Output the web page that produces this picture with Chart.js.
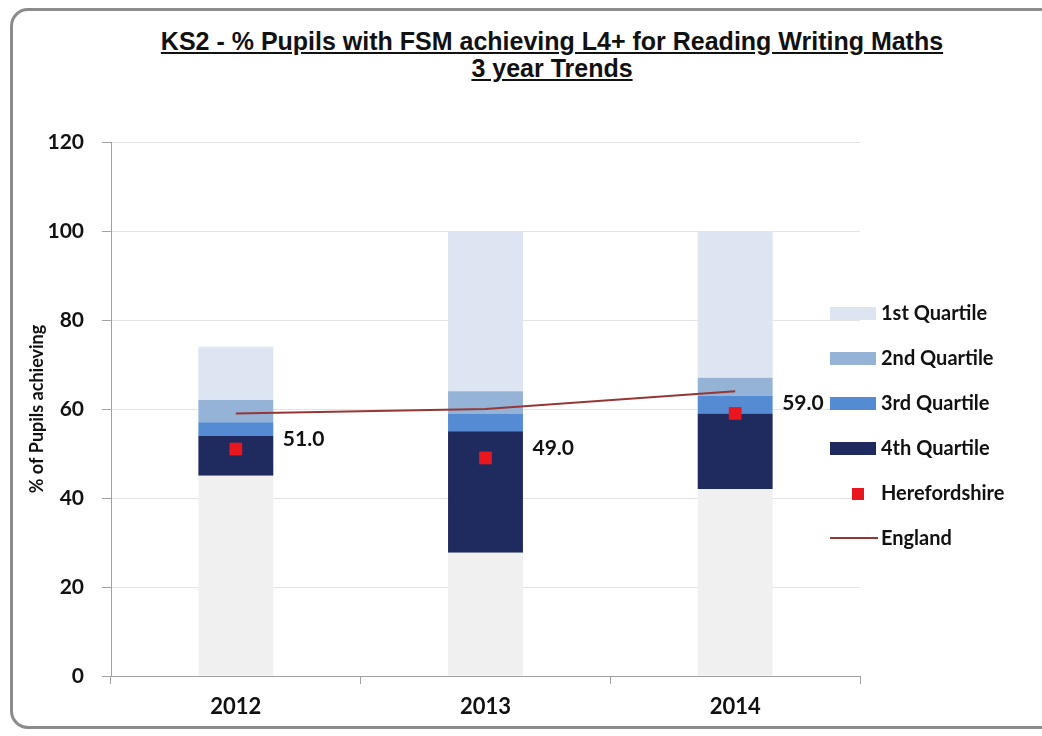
<!DOCTYPE html>
<html>
<head>
<meta charset="utf-8">
<script src="https://cdn.jsdelivr.net/npm/chart.js@4.4.1/dist/chart.umd.min.js"></script>
<style>
    html, body { margin: 0; padding: 0; background: #fff; overflow: hidden; }
    #frame {
        position: absolute; left: 10px; top: 8px; width: 1100px; height: 721px;
        border: 3px solid #8c8c8c; border-radius: 18px; box-sizing: border-box;
    }
    #title {
        position: absolute; left: 0; top: 28px; width: 1104px; text-align: center;
        font-family: "Liberation Sans", Arial, sans-serif;
        font-weight: bold; font-size: 25px; line-height: 27px; color: #111;
        text-decoration: underline; text-underline-offset: 2px;
    }
    #wrap { position: absolute; left: 0; top: 0; width: 1100px; height: 736px; }
</style>
</head>
<body>
<div id="frame"></div>
<div id="title">KS2 - % Pupils with FSM achieving L4+ for Reading Writing Maths<br>3 year Trends</div>
<div id="wrap"><canvas id="chart"></canvas></div>
<script>
// Chart data
const years = ['2012', '2013', '2014'];
const baseGap = [45, 27.7, 42];          // grey base below the 4th quartile
const quartile4 = [9, 27.3, 17];
const quartile3 = [3, 4, 4];
const quartile2 = [5, 5, 4];
const quartile1 = [12, 36, 33];
const herefordshire = [51, 49, 59];
const england = [59, 60, 64];
const yTicks = [0, 20, 40, 60, 80, 100, 120];

const FONT = 'Lato, "Open Sans", sans-serif';

// Legend drawn on the right, overlapping the plot edge like the original
const sideLegend = {
    id: 'sideLegend',
    afterDraw(chart) {
        const ctx = chart.ctx;
        const order = [4, 3, 2, 1, 6, 5];
        const x = 830;
        ctx.save();
        ctx.font = 'bold 20px ' + FONT;
        ctx.textBaseline = 'middle';
        ctx.textAlign = 'left';
        order.forEach((idx, i) => {
            const ds = chart.data.datasets[idx];
            const y = 313 + i * 45;
            if (ds.type === 'line' && ds.showLine === false) {
                ctx.fillStyle = ds.backgroundColor;
                ctx.fillRect(x + 22, y - 5, 12, 12);
            } else if (ds.type === 'line') {
                ctx.strokeStyle = ds.borderColor;
                ctx.lineWidth = 2;
                ctx.beginPath();
                ctx.moveTo(x, y);
                ctx.lineTo(x + 48, y);
                ctx.stroke();
            } else {
                ctx.fillStyle = ds.backgroundColor;
                ctx.fillRect(x, y - 6, 46, 13);
            }
            ctx.fillStyle = '#111';
            ctx.fillText(ds.label, x + 51, y + 1);
        });
        ctx.restore();
    }
};

// Value labels beside the Herefordshire markers
const pointLabels = {
    id: 'pointLabels',
    afterDatasetsDraw(chart) {
        const ctx = chart.ctx;
        const meta = chart.getDatasetMeta(6);
        ctx.save();
        ctx.font = 'bold 21px ' + FONT;
        ctx.fillStyle = '#111';
        ctx.textBaseline = 'middle';
        ctx.textAlign = 'left';
        meta.data.forEach((pt, i) => {
            ctx.fillText(herefordshire[i].toFixed(1), pt.x + 47, pt.y - 10);
        });
        ctx.restore();
    }
};

const barCommon = { type: 'bar', stack: 'q', order: 3, barPercentage: 0.3, categoryPercentage: 1 };

new Chart(document.getElementById('chart'), {
    data: {
        labels: years,
        datasets: [
            { ...barCommon, label: 'Base', data: baseGap, backgroundColor: '#f0f0f0' },
            { ...barCommon, label: '4th Quartile', data: quartile4, backgroundColor: '#1f2b5e' },
            { ...barCommon, label: '3rd Quartile', data: quartile3, backgroundColor: '#558bd2' },
            { ...barCommon, label: '2nd Quartile', data: quartile2, backgroundColor: '#95b2d7' },
            { ...barCommon, label: '1st Quartile', data: quartile1, backgroundColor: '#dce5f1' },
            {
                type: 'line', label: 'England', data: england, stack: 'e', order: 2,
                borderColor: '#953735', borderWidth: 2, pointRadius: 0, tension: 0, fill: false
            },
            {
                type: 'line', label: 'Herefordshire', data: herefordshire, stack: 'h', order: 1,
                showLine: false, pointStyle: 'rect', pointRadius: 9, pointBorderWidth: 0,
                backgroundColor: '#e8161f', borderColor: '#e8161f'
            }
        ]
    },
    options: {
        responsive: true,
        maintainAspectRatio: false,
        animation: false,
        layout: { padding: { left: 20, right: 240, top: 142, bottom: 0 } },
        plugins: {
            legend: { display: false },
            tooltip: { enabled: false },
            title: { display: false }
        },
        scales: {
            x: {
                afterFit: (scale) => { scale.height = 60; },
                grid: {
                    offset: true,
                    drawOnChartArea: false,
                    tickLength: 8,
                    color: '#a0a0a0'
                },
                border: { color: '#a0a0a0', width: 1 },
                ticks: {
                    padding: 10,
                    color: '#111',
                    font: { family: FONT, size: 22, weight: 'bold' }
                }
            },
            y: {
                stacked: true,
                min: 0,
                max: 120,
                afterFit: (scale) => { scale.width = 91; },
                afterBuildTicks: (scale) => { scale.ticks = yTicks.map(v => ({ value: v })); },
                grid: {
                    color: '#e4e4e4',
                    tickColor: '#a0a0a0',
                    tickLength: 9
                },
                border: { color: '#a0a0a0', width: 1 },
                ticks: {
                    padding: 18,
                    color: '#111',
                    font: { family: FONT, size: 21, weight: 'bold' }
                },
                title: {
                    display: true,
                    text: '% of Pupils achieving',
                    color: '#111',
                    padding: { top: 6, bottom: 0 },
                    font: { family: FONT, size: 18, weight: 'bold' }
                }
            }
        }
    },
    plugins: [sideLegend, pointLabels]
});
</script>
</body>
</html>
